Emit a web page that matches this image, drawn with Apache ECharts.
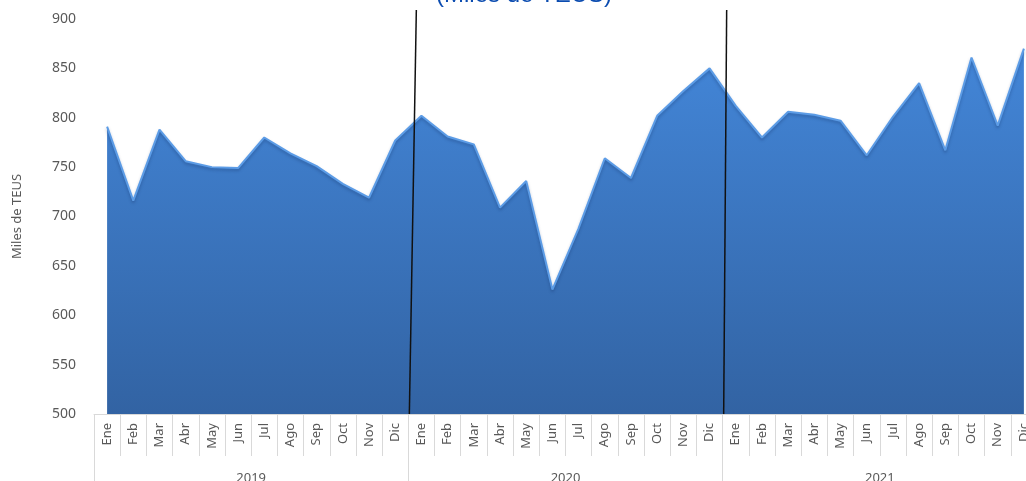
<!DOCTYPE html>
<html>
<head>
<meta charset="utf-8">
<script src="https://cdn.jsdelivr.net/npm/echarts@6/dist/echarts.min.js"></script>
<style>
  html, body { margin: 0; padding: 0; background: #fff; }
  #chart { width: 1026px; height: 481px; }
</style>
</head>
<body>
<div id="chart"></div>
<script>
// meses y años (eje de dos niveles)
var meses = ["Ene", "Feb", "Mar", "Abr", "May", "Jun", "Jul", "Ago", "Sep", "Oct", "Nov", "Dic"];
var anios = ["2019", "2020", "2021"];

// miles de TEUS por mes
var teus2019 = [791, 716, 788, 756, 750, 749, 780, 764, 751, 733, 719, 777];
var teus2020 = [802, 781, 773, 709, 736, 626, 688, 759, 739, 802, 827, 850];
var teus2021 = [812, 780, 806, 803, 797, 762, 801, 835, 767, 861, 792, 870];

var yTicks = [500, 550, 600, 650, 700, 750, 800, 850, 900];

var categorias = [];
anios.forEach(function (a) {
  meses.forEach(function (m) {
    categorias.push(m + " " + a);
  });
});
var valores = teus2019.concat(teus2020, teus2021);

var gris = "#595959";
var lineaEje = "#d9d9d9";

var chart = echarts.init(document.getElementById("chart"));

var option = {
  animation: false,
  title: {
    text: "(Miles de TEUS)",
    left: 519,
    textAlign: "center",
    top: -22,
    textStyle: {
      fontFamily: "Liberation Sans",
      fontSize: 24,
      fontWeight: "normal",
      color: "#0b4cb0",
    },
  },
  grid: {
    left: 94,
    top: 19,
    width: 943,
    bottom: 67,
    containLabel: false,
    outerBoundsMode: "none",
  },
  xAxis: [
    {
      type: "category",
      data: categorias,
      boundaryGap: true,
      axisLine: { lineStyle: { color: lineaEje, width: 1 } },
      axisTick: { show: true, interval: 0, length: 42, lineStyle: { color: lineaEje } },
      axisLabel: {
        interval: 0,
        rotate: 90,
        margin: 9,
        fontFamily: "Noto Sans",
        fontSize: 13,
        color: gris,
        formatter: function (v) {
          return v.split(" ")[0];
        },
      },
    },
    {
      type: "category",
      data: anios,
      position: "bottom",
      boundaryGap: true,
      axisLine: { show: false },
      axisTick: { show: true, interval: 0, length: 80, lineStyle: { color: lineaEje } },
      axisLabel: {
        interval: 0,
        margin: 58,
        fontFamily: "Noto Sans",
        fontSize: 13,
        color: gris,
      },
    },
  ],
  yAxis: {
    type: "value",
    min: yTicks[0],
    max: yTicks[yTicks.length - 1],
    interval: 50,
    name: "Miles de TEUS",
    nameLocation: "middle",
    nameGap: 70,
    nameTextStyle: { fontFamily: "Noto Sans", fontSize: 13, color: gris },
    axisLine: { show: false },
    axisTick: { show: false },
    splitLine: { show: false },
    axisLabel: { margin: 18, fontFamily: "Noto Sans", fontSize: 14, color: gris },
  },
  series: [
    {
      type: "line",
      data: valores,
      symbol: "none",
      lineStyle: {
        color: "#5c9ce6",
        width: 2,
        shadowColor: "rgba(20,50,100,0.35)",
        shadowBlur: 3,
        shadowOffsetY: 2,
      },
      areaStyle: {
        opacity: 1,
        color: new echarts.graphic.LinearGradient(0, 0, 0, 1, [
          { offset: 0, color: "#4386d8" },
          { offset: 1, color: "#3263a3" },
        ]),
      },
    },
  ],
};

chart.setOption(option);

// líneas negras de separación entre años
var lineas = [];
[12, 24].forEach(function (i) {
  var xa = chart.convertToPixel({ xAxisIndex: 0 }, categorias[i - 1]);
  var xb = chart.convertToPixel({ xAxisIndex: 0 }, categorias[i]);
  var x = (xa + xb) / 2;
  var yBase = chart.convertToPixel({ yAxisIndex: 0 }, yTicks[0]);
  var inclin = i === 12 ? 7 : 3;
  lineas.push({
    type: "line",
    shape: { x1: x + 1 + inclin, y1: 10, x2: x + 1, y2: yBase },
    style: { stroke: "#111", lineWidth: 1.5 },
    z: 100,
  });
});
chart.setOption({ graphic: lineas });
</script>
</body>
</html>
